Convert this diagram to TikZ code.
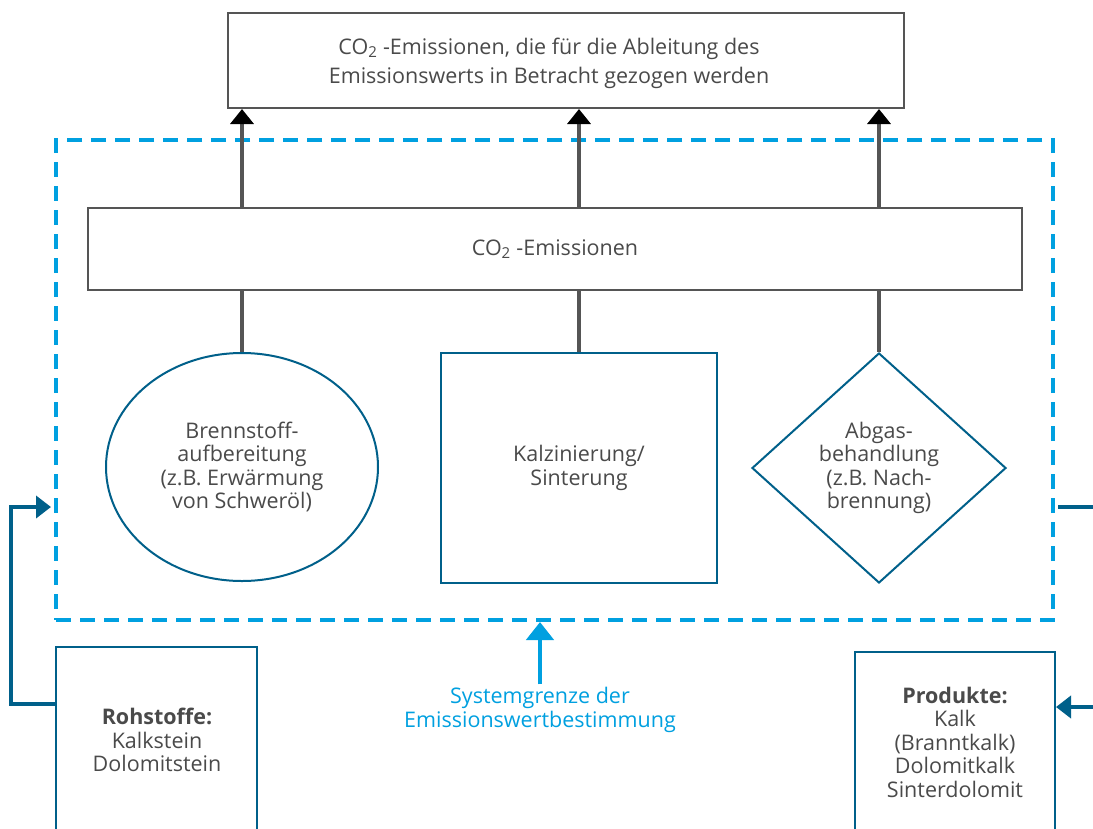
\documentclass[tikz,border=0pt]{standalone}
\usepackage{fontspec}
\setmainfont{Open Sans}
\usetikzlibrary{shapes.geometric,arrows.meta,calc}
\definecolor{txtgray}{HTML}{4A4A4A}
\definecolor{boxgray}{HTML}{555555}
\definecolor{dblue}{HTML}{00608A}
\definecolor{cyanb}{HTML}{00A0E0}
\begin{document}
\begin{tikzpicture}[x=1pt,y=-1pt,
  every node/.style={text=txtgray,font=\fontsize{21.5}{23.5}\selectfont,align=center,inner sep=0pt},
  graybox/.style={draw=boxgray,line width=2pt,rectangle},
  bluebox/.style={draw=dblue,line width=2pt},
  grayarrow/.style={draw=boxgray,line width=3.5pt,-{Triangle[width=23pt,length=15pt,color=black]}},
  grayline/.style={draw=boxgray,line width=3.5pt},
  bluearrow/.style={draw=dblue,line width=4pt,-{Triangle[width=22pt,length=15pt]}},
  blueline/.style={draw=dblue,line width=4pt},
  sysbound/.style={draw=cyanb,line width=4pt,dash pattern=on 15pt off 9pt,rectangle,minimum width=997pt,minimum height=480pt},
  cyanarrow/.style={draw=cyanb,line width=4.5pt,-{Triangle[width=27pt,length=18pt]}}
]
\useasboundingbox (0,0) rectangle (1093,828);
\fill[white] (0,0) rectangle (1093,828);

\node[sysbound] (sys) at (554.5,380) {};

\node[graybox,minimum width=676pt,minimum height=95pt] (top) at (566,60.5) {};
\node[font=\fontsize{21.5}{29}\selectfont] (toptxt) at (549,63)
  {CO\textsubscript{2} -Emissionen, die für die Ableitung des\\Emissionswerts in Betracht gezogen werden};
\node[graybox,minimum width=934pt,minimum height=82pt,fill=white] (mid) at (555,249)
  {CO\textsubscript{2} -Emissionen};

\node[bluebox,ellipse,minimum width=272pt,minimum height=228pt] (ell) at (242,467)
  {Brennstoff-\\aufbereitung\\(z.B. Erwärmung\\von Schweröl)};
\node[bluebox,rectangle,minimum width=276pt,minimum height=230pt] (sq) at (579,468)
  {Kalzinierung/\\Sinterung};
\node[bluebox,diamond,minimum width=254pt,minimum height=230pt] (dia) at (879,468)
  {Abgas-\\behandlung\\(z.B. Nach-\\brennung)};

\node[bluebox,rectangle,minimum width=201pt,minimum height=200pt] (roh) at (156.5,747)
  {};
\node (rohtxt) at (157,740) {\textbf{Rohstoffe:}\\Kalkstein\\Dolomitstein};
\node[bluebox,rectangle,minimum width=200pt,minimum height=200pt] (prod) at (955,752)
  {};
\node (prodtxt) at (955,742) {\textbf{Produkte:}\\Kalk\\(Branntkalk)\\Dolomitkalk\\Sinterdolomit};

\node[text=cyanb] (lbl) at (540,710) {Systemgrenze der\\Emissionswertbestimmung};

% vertical connectors
\foreach \n in {ell,sq,dia}{
  \draw[grayarrow] (mid.north -| \n.north) -- (top.south -| \n.north);
  \draw[grayline] (mid.south -| \n.north) -- (\n.north);
}

% left input
\coordinate (inL) at ($(sys.west)+(-3,127)$);
\draw[bluearrow] ($(roh.north west)+(0,58)$) -- ++(-44,0) |- (inL);
% right side
\coordinate (outR) at (1093,507);
\draw[blueline] ($(sys.east)+(3,127)$) -- (outR);
\coordinate (inR) at (1093,707);
\draw[bluearrow] (inR) -- (prod.east |- inR);

% system boundary label arrow
\draw[cyanarrow] (lbl.north) ++(0,-3) -- (sys.south -| lbl.north);
\end{tikzpicture}
\end{document}
